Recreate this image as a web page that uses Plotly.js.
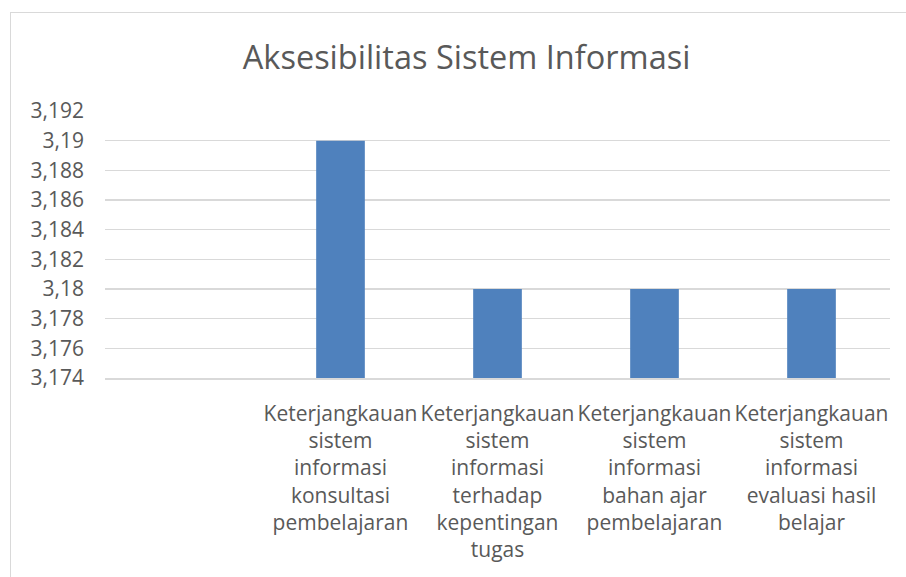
<!DOCTYPE html>
<html>
<head>
<meta charset="utf-8">
<script src="https://cdn.plot.ly/plotly-3.0.1.min.js"></script>
<style>
html,body{margin:0;padding:0;background:#fff;}
#frame{position:absolute;left:10px;top:12px;width:1000px;height:700px;border:1.5px solid #d9d9d9;box-sizing:border-box;}
#chart{position:absolute;left:0;top:0;width:906px;height:577px;}
</style>
</head>
<body>
<div id="frame"></div>
<div id="chart"></div>
<script>
const categories = [
  "Keterjangkauan<br>sistem<br>informasi<br>konsultasi<br>pembelajaran",
  "Keterjangkauan<br>sistem<br>informasi<br>terhadap<br>kepentingan<br>tugas",
  "Keterjangkauan<br>sistem<br>informasi<br>bahan ajar<br>pembelajaran",
  "Keterjangkauan<br>sistem<br>informasi<br>evaluasi hasil<br>belajar"
];
const values = [3.19, 3.18, 3.18, 3.18];
const yTicks = [3.174, 3.176, 3.178, 3.18, 3.182, 3.184, 3.186, 3.188, 3.19, 3.192];
const chartTitle = "Aksesibilitas Sistem Informasi";

const font = "Open Sans, sans-serif";
Plotly.newPlot("chart", [{
  type: "bar",
  x: categories,
  y: values,
  marker: {color: "#4f81bd"},
  width: 0.31,
  hoverinfo: "none"
}], {
  width: 906, height: 577,
  margin: {l: 105, r: 16, t: 111, b: 199},
  paper_bgcolor: "rgba(0,0,0,0)",
  plot_bgcolor: "rgba(0,0,0,0)",
  separators: ",.",
  showlegend: false,
  title: {text: chartTitle, x: 0.515, xanchor: "center", y: 0.9, yanchor: "middle",
          font: {family: font, size: 32.5, color: "#595959"}},
  xaxis: {
    type: "category",
    range: [-1.5, 3.5],
    showgrid: false, zeroline: false,
    showline: true, linecolor: "#d9d9d9", linewidth: 1.5,
    ticks: "", tickangle: 0, ticklabelstandoff: 16,
    tickfont: {family: font, size: 21, color: "#595959"}
  },
  yaxis: {
    range: [3.174, 3.192],
    tickvals: yTicks,
    showgrid: true, gridcolor: "#d9d9d9", gridwidth: 1.5,
    zeroline: false, showline: false, ticks: "", ticklabelstandoff: 20,
    tickfont: {family: font, size: 21, color: "#595959"}
  }
}, {staticPlot: true});
</script>
</body>
</html>
